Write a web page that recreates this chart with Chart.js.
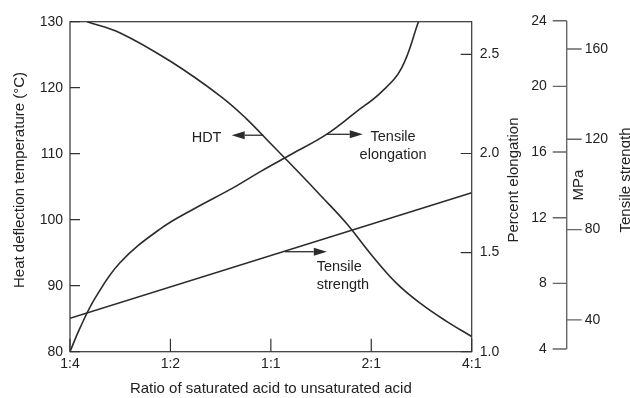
<!DOCTYPE html>
<html>
<head>
<meta charset="utf-8">
<script src="https://cdn.jsdelivr.net/npm/chart.js@4.4.0/dist/chart.umd.min.js"></script>
<style>
    html, body { margin: 0; padding: 0; background: #fff; }
</style>
</head>
<body>
<canvas id="hdt-chart" width="630" height="398"></canvas>
<script>
// Category positions on the x axis: 0 = 1:4 ... 4 = 4:1
var categories = ["1:4", "1:2", "1:1", "2:1", "4:1"]

// Heat deflection temperature (°C), left axis
var hdtX = [0.17, 0.5, 1.0, 1.5, 1.75, 2.0, 2.25, 2.5, 2.75, 3.0, 3.25, 3.5, 3.75, 4.0]
var hdtValues = [130, 128.3, 124, 118.7, 115.4, 111.5, 107.6, 103.6, 99.5, 94.7, 90.4, 87.2, 84.6, 82.3]

// Tensile elongation (%), first right axis
var elongX = [0, 0.1, 0.25, 0.5, 0.9, 1.25, 1.6, 1.9, 2.2, 2.55, 2.85, 3.1, 3.3, 3.47]
var elongValues = [1.0, 1.12, 1.27, 1.45, 1.62, 1.725, 1.82, 1.91, 1.995, 2.095, 2.21, 2.31, 2.43, 2.665]

// Tensile strength (MPa)
var strengthX = [0, 4]
var strengthValues = [5.87, 13.52]

// tick labels
var hdtTicks = [80, 90, 100, 110, 120, 130]
var elongTicks = [1.0, 1.5, 2.0, 2.5]
var mpaTicks = [4, 8, 12, 16, 20, 24]
var strengthTicks = [40, 80, 120, 160]

var FONT = "'Liberation Sans', Arial, sans-serif"
var INK = "#222"
var LINE = "#2b2b2b"
var mpaAxisGap = 95

// arrow notes, in data units of the x axis and the left axis
var notes = [
    { lines: ["HDT"], x: 1.36, y: 112.45, align: "center", from: 1.925, to: 1.61, arrowY: 112.8 },
    { lines: ["Tensile", "elongation"], x: 3.217, y: 112.58, align: "center", from: 2.557, to: 2.915, arrowY: 112.94 },
    { lines: ["Tensile", "strength"], x: 2.457, y: 92.88, align: "left", from: 2.141, to: 2.557, arrowY: 95.15 }
]

function pairs(xs, ys) {
    return xs.map((x, i) => ({ x: x, y: ys[i] }))
}

function setTicks(list) {
    return (scale) => { scale.ticks = list.map(v => ({ value: v })) }
}

function drawRotated(ctx, text, x, y) {
    ctx.save()
    ctx.translate(x, y)
    ctx.rotate(-Math.PI / 2)
    ctx.textAlign = "center"
    ctx.textBaseline = "middle"
    ctx.fillText(text, 0, 0)
    ctx.restore()
}

function arrow(ctx, x1, x2, y) {
    var dir = x2 > x1 ? 1 : -1
    var head = 13
    ctx.beginPath()
    ctx.moveTo(x1, y)
    ctx.lineTo(x2 - dir * head, y)
    ctx.stroke()
    ctx.beginPath()
    ctx.moveTo(x2, y)
    ctx.lineTo(x2 - dir * head, y - 4)
    ctx.lineTo(x2 - dir * head, y + 4)
    ctx.closePath()
    ctx.fill()
}

var axisDecor = {
    id: "axisDecor",
    afterDraw(chart) {
        var ctx = chart.ctx
        var a = chart.chartArea
        var s = chart.scales
        ctx.save()

        // frame
        ctx.strokeStyle = "#333"
        ctx.lineWidth = 1.2
        ctx.strokeRect(a.left, a.top, a.right - a.left, a.bottom - a.top)

        // inward tick marks
        ctx.beginPath()
        categories.forEach((c, i) => {
            var px = s.x.getPixelForValue(i)
            ctx.moveTo(px, a.bottom)
            ctx.lineTo(px, a.bottom - 13)
        })
        hdtTicks.forEach(v => {
            var py = s.y.getPixelForValue(v)
            ctx.moveTo(a.left, py)
            ctx.lineTo(a.left + 10, py)
        })
        elongTicks.forEach(v => {
            var py = s.yE.getPixelForValue(v)
            ctx.moveTo(a.right, py)
            ctx.lineTo(a.right - 11, py)
        })
        ctx.stroke()

        // MPa axis with the second strength scale
        var ax = a.right + mpaAxisGap
        ctx.strokeStyle = "#666"
        ctx.lineWidth = 1.4
        ctx.beginPath()
        ctx.moveTo(ax, s.yM.getPixelForValue(mpaTicks[0]))
        ctx.lineTo(ax, s.yM.getPixelForValue(mpaTicks[mpaTicks.length - 1]))
        mpaTicks.forEach(v => {
            var py = s.yM.getPixelForValue(v)
            ctx.moveTo(ax - 14, py)
            ctx.lineTo(ax, py)
        })
        strengthTicks.forEach(v => {
            var py = s.yP.getPixelForValue(v)
            ctx.moveTo(ax, py)
            ctx.lineTo(ax + 15, py)
        })
        ctx.stroke()

        ctx.fillStyle = INK
        ctx.font = "14px " + FONT
        ctx.textBaseline = "middle"
        ctx.textAlign = "right"
        mpaTicks.forEach(v => ctx.fillText(String(v), ax - 20, s.yM.getPixelForValue(v)))
        ctx.textAlign = "left"
        strengthTicks.forEach(v => ctx.fillText(String(v), ax + 18, s.yP.getPixelForValue(v)))

        // axis titles
        ctx.font = "15px " + FONT
        drawRotated(ctx, "Heat deflection temperature (°C)", 20, 180)
        drawRotated(ctx, "Percent elongation", a.right + 42, 180)
        drawRotated(ctx, "MPa", ax + 12, 185)
        drawRotated(ctx, "Tensile strength", 626, 180)

        // notes with arrows
        ctx.strokeStyle = LINE
        ctx.fillStyle = LINE
        ctx.lineWidth = 1.3
        ctx.font = "14.5px " + FONT
        notes.forEach(n => {
            var ay = s.y.getPixelForValue(n.arrowY)
            arrow(ctx, s.x.getPixelForValue(n.from), s.x.getPixelForValue(n.to), ay)
            var tx = s.x.getPixelForValue(n.x)
            var ty = s.y.getPixelForValue(n.y)
            ctx.fillStyle = INK
            ctx.textAlign = n.align
            n.lines.forEach((t, i) => ctx.fillText(t, tx, ty + i * 18.3))
            ctx.fillStyle = LINE
        })

        ctx.restore()
    }
}

function createChart() {
    Chart.defaults.font.family = FONT
    Chart.defaults.color = INK

    new Chart("hdt-chart", {
        type: "line",
        data: {
            datasets: [
                {
                    label: "HDT",
                    data: pairs(hdtX, hdtValues),
                    yAxisID: "y",
                    borderColor: LINE,
                    borderWidth: 1.6,
                    pointRadius: 0,
                    tension: 0.4
                },
                {
                    label: "Tensile elongation",
                    data: pairs(elongX, elongValues),
                    yAxisID: "yE",
                    borderColor: LINE,
                    borderWidth: 1.6,
                    pointRadius: 0,
                    tension: 0.4
                },
                {
                    label: "Tensile strength",
                    data: pairs(strengthX, strengthValues),
                    yAxisID: "yM",
                    borderColor: LINE,
                    borderWidth: 1.6,
                    pointRadius: 0,
                    tension: 0
                }
            ]
        },
        options: {
            responsive: false,
            animation: false,
            devicePixelRatio: 1,
            layout: { padding: { top: 21.7, left: 0, right: 0, bottom: 0 } },
            plugins: {
                legend: { display: false },
                tooltip: { enabled: false }
            },
            scales: {
                x: {
                    type: "linear",
                    position: "bottom",
                    min: 0,
                    max: categories.length - 1,
                    afterBuildTicks: setTicks(categories.map((c, i) => i)),
                    ticks: {
                        callback: v => categories[v],
                        font: { size: 14 },
                        padding: 4,
                        maxRotation: 0,
                        autoSkip: false
                    },
                    grid: { display: false, drawTicks: false },
                    border: { display: false },
                    title: {
                        display: true,
                        text: "Ratio of saturated acid to unsaturated acid",
                        font: { size: 15 },
                        padding: 0
                    },
                    afterFit: scale => { scale.height = 46.3 }
                },
                y: {
                    position: "left",
                    min: 80,
                    max: 130,
                    afterBuildTicks: setTicks(hdtTicks),
                    ticks: { font: { size: 14 }, padding: 7 },
                    grid: { display: false, drawTicks: false },
                    border: { display: false },
                    afterFit: scale => { scale.width = 70 }
                },
                yE: {
                    position: "right",
                    min: 1.0,
                    max: 2.665,
                    afterBuildTicks: setTicks(elongTicks),
                    ticks: { font: { size: 14 }, padding: 8, callback: v => v.toFixed(1) },
                    grid: { display: false, drawTicks: false },
                    border: { display: false },
                    afterFit: scale => { scale.width = 158.3 }
                },
                yM: { display: false, min: 3.835, max: 23.94 },
                yP: { display: false, min: 25.9, max: 172.1 }
            }
        },
        plugins: [axisDecor]
    })
}

createChart()
</script>
</body>
</html>
